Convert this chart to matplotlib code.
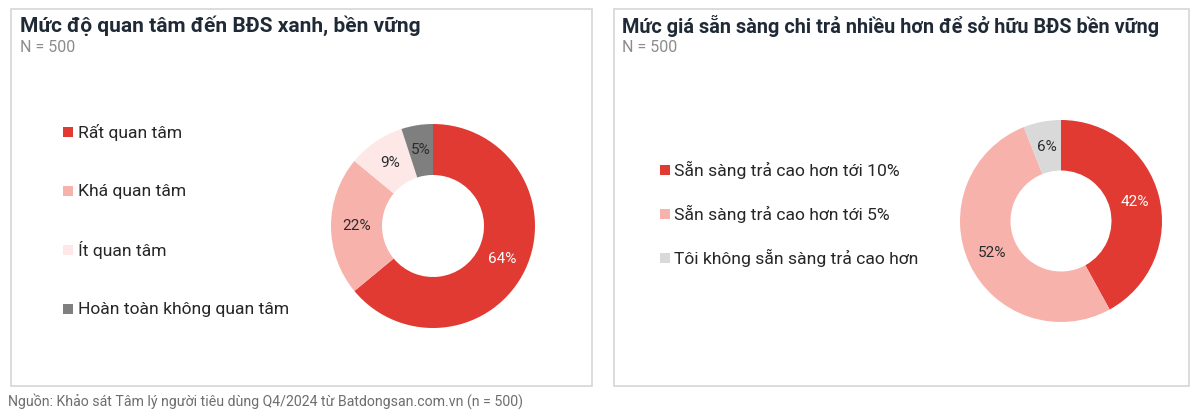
import matplotlib
matplotlib.use("Agg")
import matplotlib.pyplot as plt
from matplotlib.patches import Rectangle

plt.rcParams['font.family'] = ['Roboto', 'DejaVu Sans']

# ---- data ----
left_title = "Mức độ quan tâm đến BĐS xanh, bền vững"
left_labels = ["Rất quan tâm", "Khá quan tâm", "Ít quan tâm", "Hoàn toàn không quan tâm"]
left_values = [64, 22, 9, 5]
left_colors = ["#E03A32", "#F8B2AC", "#FDE8E7", "#7F7F7F"]
left_text_colors = ["white", "#2B2B2B", "#2B2B2B", "#2B2B2B"]

right_title = "Mức giá sẵn sàng chi trả nhiều hơn để sở hữu BĐS bền vững"
right_labels = ["Sẵn sàng trả cao hơn tới 10%", "Sẵn sàng trả cao hơn tới 5%", "Tôi không sẵn sàng trả cao hơn"]
right_values = [42, 52, 6]
right_colors = ["#E03A32", "#F8B2AC", "#D9D9D9"]
right_text_colors = ["white", "#2B2B2B", "#2B2B2B"]

subtitle = "N = 500"
footer = "Nguồn: Khảo sát Tâm lý người tiêu dùng Q4/2024 từ Batdongsan.com.vn (n = 500)"

W, H = 1200, 415
fig = plt.figure(figsize=(W / 100, H / 100), dpi=100)
fig.patch.set_facecolor("white")


def px(x, y):
    return x / W, 1 - y / H


# panel borders
for (x0, x1) in [(11, 592), (614, 1189)]:
    fig.patches.append(Rectangle(px(x0, 386), (x1 - x0) / W, (386 - 9) / H,
                                 transform=fig.transFigure, fill=False,
                                 edgecolor="#D6D6D6", linewidth=1.2))


def donut(cx, cy, r, values, colors, tcolors):
    ax = fig.add_axes([(cx - r) / W, (H - cy - r) / H, 2 * r / W, 2 * r / H])
    wedges, texts, autotexts = ax.pie(values, colors=colors, startangle=90, counterclock=False,
                                      radius=1, wedgeprops=dict(width=0.5, linewidth=0),
                                      autopct=lambda p: f"{p:.0f}%", pctdistance=0.75,
                                      textprops=dict(fontsize=11))
    for t, c in zip(autotexts, tcolors):
        t.set_color(c)
    ax.set_xlim(-1, 1)
    ax.set_ylim(-1, 1)
    ax.set_aspect("equal")
    ax.axis("off")
    return ax


donut(433, 226, 102, left_values, left_colors, left_text_colors)
donut(1061, 221, 101, right_values, right_colors, right_text_colors)

# titles
for x, t, fs in [(20, left_title, 15), (622, right_title, 14.3)]:
    fig.text(*px(x, 26), t, fontsize=fs, fontweight="bold", color="#1F2A36", va="center", ha="left")
    fig.text(*px(x, 47), subtitle, fontsize=11.5, color="#8C8C8C", va="center", ha="left")


def legend(x_marker, x_text, ys, labels, colors):
    for y, lab, c in zip(ys, labels, colors):
        fig.patches.append(Rectangle(px(x_marker, y + 5), 10 / W, 10 / H,
                                     transform=fig.transFigure, facecolor=c, edgecolor="none"))
        fig.text(*px(x_text, y), lab, fontsize=12.6, color="#262626", va="center", ha="left")


legend(63, 78, [132, 191, 250, 309], left_labels, left_colors)
legend(660, 674, [170, 214, 258], right_labels, right_colors)

fig.text(*px(8, 401), footer, fontsize=10.2, color="#6E6E6E", va="center", ha="left")

fig.savefig("out.png", dpi=100, facecolor="white")
